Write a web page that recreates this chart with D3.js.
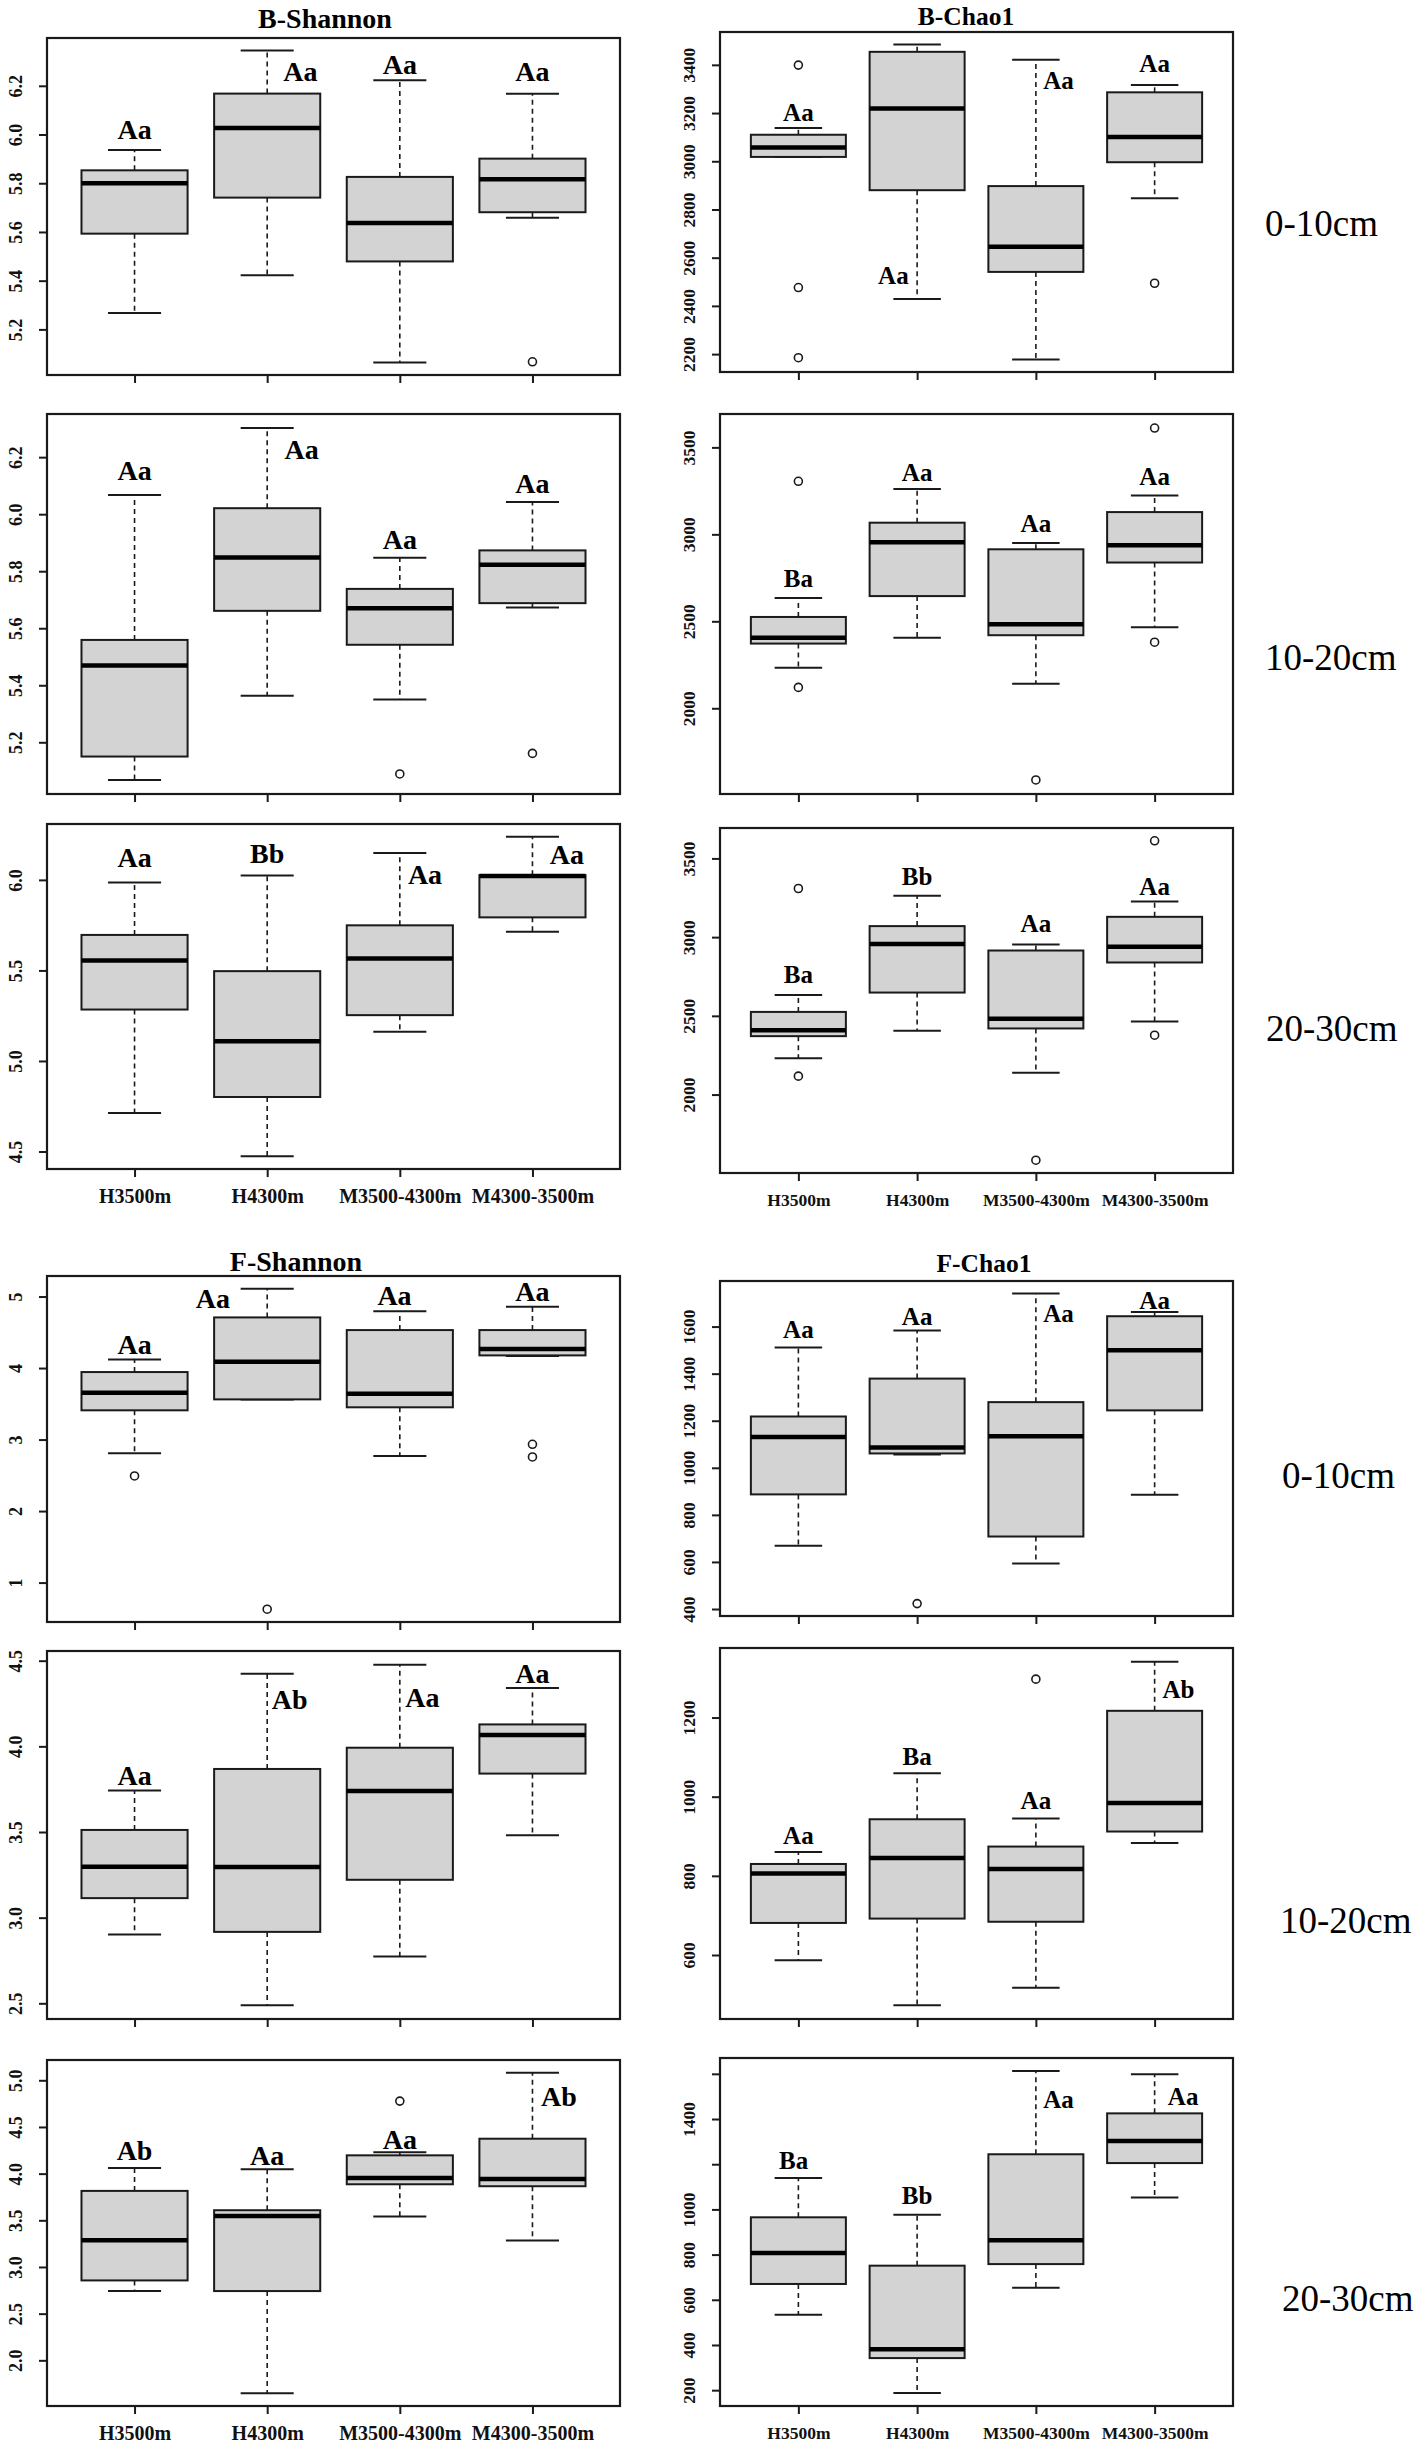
<!DOCTYPE html>
<meta charset="utf-8">
<script src="https://d3js.org/d3.v7.min.js"></script>
<style type="text/css">
	body { margin: 0; background: #fff; }
	text { font-family: "Liberation Serif", "Times New Roman", serif; }
</style>
<div id="fig"></div>

<script>
// groups on the x axis, same for every panel
const groups = ["H3500m", "H4300m", "M3500-4300m", "M4300-3500m"];

// each box: [lower whisker, Q1, median, Q3, upper whisker]
// ---- bacteria, Shannon
const bShannon_0_10 = [[5.267, 5.593, 5.800, 5.853, 5.936], [5.422, 5.741, 6.027, 6.168, 6.345], [5.064, 5.479, 5.637, 5.826, 6.223], [5.658, 5.681, 5.816, 5.901, 6.167]];
const bShannon_0_10_out = [[], [], [], [5.067]];
const bShannon_0_10_let = ["Aa", "Aa", "Aa", "Aa"];
const bShannon_0_10_letY = [6.018, 6.258, 6.288, 6.258];
const bShannon_0_10_letDx = [0, 0.25, 0, 0];

const bShannon_10_20 = [[5.068, 5.150, 5.469, 5.559, 6.067], [5.363, 5.661, 5.848, 6.021, 6.302], [5.350, 5.542, 5.670, 5.738, 5.847], [5.673, 5.688, 5.823, 5.873, 6.043]];
const bShannon_10_20_out = [[], [], [5.089], [5.161]];
const bShannon_10_20_let = ["Aa", "Aa", "Aa", "Aa"];
const bShannon_10_20_letY = [6.152, 6.226, 5.912, 6.105];
const bShannon_10_20_letDx = [0, 0.26, 0, 0];

const bShannon_20_30 = [[4.712, 5.284, 5.555, 5.696, 5.985], [4.474, 4.801, 5.109, 5.496, 6.024], [5.162, 5.253, 5.566, 5.749, 6.148], [5.714, 5.793, 6.022, 6.026, 6.238]];
const bShannon_20_30_out = [[], [], [], []];
const bShannon_20_30_let = ["Aa", "Bb", "Aa", "Aa"];
const bShannon_20_30_letY = [6.120, 6.146, 6.028, 6.138];
const bShannon_20_30_letDx = [0, 0, 0.19, 0.26];

// ---- bacteria, Chao1
const bChao1_0_10 = [[3018, 3018, 3057, 3110, 3138], [2429, 2880, 3219, 3454, 3484], [2178, 2541, 2645, 2897, 3421], [2847, 2996, 3101, 3286, 3316]];
const bChao1_0_10_out = [[3399, 2476, 2185], [], [], [2494]];
const bChao1_0_10_let = ["Aa", "Aa", "Aa", "Aa"];
const bChao1_0_10_letY = [3203, 2523, 3334, 3403];
const bChao1_0_10_letDx = [0, -0.2, 0.19, 0];

const bChao1_10_20 = [[2233, 2372, 2406, 2525, 2634], [2406, 2645, 2954, 3067, 3261], [2141, 2420, 2483, 2914, 2950], [2466, 2838, 2937, 3128, 3223]];
const bChao1_10_20_out = [[3305, 2120], [], [1588], [3611, 2380]];
const bChao1_10_20_let = ["Ba", "Aa", "Aa", "Aa"];
const bChao1_10_20_letY = [2746, 3357, 3061, 3332];
const bChao1_10_20_letDx = [0, 0, 0, 0];

const bChao1_20_30 = [[2231, 2371, 2409, 2525, 2633], [2405, 2648, 2956, 3070, 3263], [2138, 2420, 2481, 2915, 2953], [2464, 2839, 2939, 3129, 3227]];
const bChao1_20_30_out = [[3309, 2117], [], [1583], [3612, 2377]];
const bChao1_20_30_let = ["Ba", "Bb", "Aa", "Aa"];
const bChao1_20_30_letY = [2763, 3383, 3083, 3320];
const bChao1_20_30_letDx = [0, 0, 0, 0];

// ---- fungi, Shannon
const fShannon_0_10 = [[2.808, 3.409, 3.655, 3.944, 4.121], [3.560, 3.562, 4.088, 4.708, 5.108], [2.771, 3.451, 3.641, 4.531, 4.796], [4.170, 4.177, 4.265, 4.531, 4.857]];
const fShannon_0_10_out = [[2.491], [0.628], [], [2.934, 2.757]];
const fShannon_0_10_let = ["Aa", "Aa", "Aa", "Aa"];
const fShannon_0_10_letY = [4.321, 4.973, 5.010, 5.066];
const fShannon_0_10_letDx = [0, -0.41, -0.04, 0];

const fShannon_10_20 = [[2.901, 3.114, 3.297, 3.512, 3.742], [2.488, 2.917, 3.295, 3.868, 4.424], [2.773, 3.221, 3.740, 3.992, 4.477], [3.481, 3.841, 4.066, 4.128, 4.341]];
const fShannon_10_20_out = [[], [], [], []];
const fShannon_10_20_let = ["Aa", "Ab", "Aa", "Aa"];
const fShannon_10_20_letY = [3.831, 4.273, 4.283, 4.422];
const fShannon_10_20_letDx = [0, 0.17, 0.17, 0];

const fShannon_20_30 = [[2.742, 2.856, 3.287, 3.815, 4.061], [1.648, 2.742, 3.547, 3.608, 4.046], [3.540, 3.886, 3.954, 4.196, 4.228], [3.284, 3.865, 3.943, 4.374, 5.080]];
const fShannon_20_30_out = [[], [], [4.777], []];
const fShannon_20_30_let = ["Ab", "Aa", "Aa", "Ab"];
const fShannon_20_30_letY = [4.249, 4.196, 4.367, 4.827];
const fShannon_20_30_letDx = [0, 0, 0, 0.2];

// ---- fungi, Chao1
const fChao1_0_10 = [[669, 887, 1131, 1218, 1511], [1056, 1061, 1086, 1379, 1583], [593, 708, 1134, 1279, 1741], [885, 1244, 1500, 1644, 1662]];
const fChao1_0_10_out = [[], [423], [], []];
const fChao1_0_10_let = ["Aa", "Aa", "Aa", "Aa"];
const fChao1_0_10_letY = [1586, 1641, 1656, 1711];
const fChao1_0_10_letDx = [0, 0, 0.19, 0];

const fChao1_10_20 = [[587, 681, 806, 830, 860], [473, 692, 845, 943, 1059], [517, 684, 817, 874, 945], [883, 912, 984, 1217, 1341]];
const fChao1_10_20_out = [[], [], [1297], []];
const fChao1_10_20_let = ["Aa", "Ba", "Aa", "Ab"];
const fChao1_10_20_letY = [902, 1101, 990, 1271];
const fChao1_10_20_letDx = [0, 0, 0, 0.2];

const fChao1_20_30 = [[534, 670, 807, 965, 1139], [187, 342, 381, 751, 976], [653, 758, 864, 1244, 1613], [1053, 1205, 1303, 1425, 1598]];
const fChao1_20_30_out = [[], [], [], []];
const fChao1_20_30_let = ["Ba", "Bb", "Aa", "Aa"];
const fChao1_20_30_letY = [1214, 1059, 1485, 1500];
const fChao1_20_30_letDx = [-0.04, 0, 0.19, 0.24];

// y tick values per panel (and the ones that carry a label)
const tShannonB1 = [5.2, 5.4, 5.6, 5.8, 6.0, 6.2];
const tShannonB3 = [4.5, 5.0, 5.5, 6.0];
const tChaoB1 = [2200, 2400, 2600, 2800, 3000, 3200, 3400];
const tChaoB2 = [2000, 2500, 3000, 3500];
const tShannonF1 = [1, 2, 3, 4, 5];
const tShannonF2 = [2.5, 3.0, 3.5, 4.0, 4.5];
const tShannonF3 = [2.0, 2.5, 3.0, 3.5, 4.0, 4.5, 5.0];
const tChaoF1 = [400, 600, 800, 1000, 1200, 1400, 1600];
const tChaoF2 = [600, 800, 1000, 1200];
const tChaoF3 = [200, 400, 600, 800, 1000, 1200, 1400, 1600];
const tChaoF3shown = [200, 400, 600, 800, 1000, 1400];

const depths = ["0-10cm", "10-20cm", "20-30cm", "0-10cm", "10-20cm", "20-30cm"];

// ---- layout (page pixels)
const W = 1417, H = 2445;
const colX = [[47, 620], [720, 1233]];
const rowY = [
	[[38, 375], [32, 372]],
	[[414, 794], [414, 794]],
	[[824, 1169], [828, 1173]],
	[[1276, 1622], [1281, 1616]],
	[[1651, 2019], [1648, 2019]],
	[[2060, 2406], [2058, 2406]]
];
// the right hand column was pasted in a bit smaller
const colFont = [
	{letter: 28, xlab: 20, ytick: 18, title: 28},
	{letter: 25, xlab: 17.5, ytick: 17.5, title: 25.5}
];
const depthPos = [[1265, 223], [1265, 657], [1266, 1028], [1282, 1475], [1280, 1920], [1282, 2298]];
const titles = [
	{text: "B-Shannon", x: 325, y: 18, col: 0},
	{text: "B-Chao1", x: 966, y: 16, col: 1},
	{text: "F-Shannon", x: 296, y: 1261, col: 0},
	{text: "F-Chao1", x: 984, y: 1263, col: 1}
];

const f1 = d3.format(".1f");
const f0 = d3.format("d");

const panels = [
	{row: 0, col: 0, stats: bShannon_0_10, out: bShannon_0_10_out, let: bShannon_0_10_let, letY: bShannon_0_10_letY, letDx: bShannon_0_10_letDx, ticks: tShannonB1, fmt: f1},
	{row: 0, col: 1, stats: bChao1_0_10, out: bChao1_0_10_out, let: bChao1_0_10_let, letY: bChao1_0_10_letY, letDx: bChao1_0_10_letDx, ticks: tChaoB1, fmt: f0},
	{row: 1, col: 0, stats: bShannon_10_20, out: bShannon_10_20_out, let: bShannon_10_20_let, letY: bShannon_10_20_letY, letDx: bShannon_10_20_letDx, ticks: tShannonB1, fmt: f1},
	{row: 1, col: 1, stats: bChao1_10_20, out: bChao1_10_20_out, let: bChao1_10_20_let, letY: bChao1_10_20_letY, letDx: bChao1_10_20_letDx, ticks: tChaoB2, fmt: f0},
	{row: 2, col: 0, stats: bShannon_20_30, out: bShannon_20_30_out, let: bShannon_20_30_let, letY: bShannon_20_30_letY, letDx: bShannon_20_30_letDx, ticks: tShannonB3, fmt: f1, xlab: true},
	{row: 2, col: 1, stats: bChao1_20_30, out: bChao1_20_30_out, let: bChao1_20_30_let, letY: bChao1_20_30_letY, letDx: bChao1_20_30_letDx, ticks: tChaoB2, fmt: f0, xlab: true},
	{row: 3, col: 0, stats: fShannon_0_10, out: fShannon_0_10_out, let: fShannon_0_10_let, letY: fShannon_0_10_letY, letDx: fShannon_0_10_letDx, ticks: tShannonF1, fmt: f0},
	{row: 3, col: 1, stats: fChao1_0_10, out: fChao1_0_10_out, let: fChao1_0_10_let, letY: fChao1_0_10_letY, letDx: fChao1_0_10_letDx, ticks: tChaoF1, fmt: f0},
	{row: 4, col: 0, stats: fShannon_10_20, out: fShannon_10_20_out, let: fShannon_10_20_let, letY: fShannon_10_20_letY, letDx: fShannon_10_20_letDx, ticks: tShannonF2, fmt: f1},
	{row: 4, col: 1, stats: fChao1_10_20, out: fChao1_10_20_out, let: fChao1_10_20_let, letY: fChao1_10_20_letY, letDx: fChao1_10_20_letDx, ticks: tChaoF2, fmt: f0},
	{row: 5, col: 0, stats: fShannon_20_30, out: fShannon_20_30_out, let: fShannon_20_30_let, letY: fShannon_20_30_letY, letDx: fShannon_20_30_letDx, ticks: tShannonF3, fmt: f1, xlab: true},
	{row: 5, col: 1, stats: fChao1_20_30, out: fChao1_20_30_out, let: fChao1_20_30_let, letY: fChao1_20_30_letY, letDx: fChao1_20_30_letDx, ticks: tChaoF3, shown: tChaoF3shown, fmt: f0, xlab: true}
];

const ink = "#1a1a1a";

var svg = d3.select("#fig")
	.append("svg")
	.attr("width", W)
	.attr("height", H)
	.style("display", "block");

svg.append("rect").attr("width", W).attr("height", H).attr("fill", "#fff");

function draw_panel(p) {
	const [x0, x1] = colX[p.col];
	const [y0, y1] = rowY[p.row][p.col];
	const fs = colFont[p.col];

	// R style limits: 4% padding around the data range
	const all = p.stats.flat().concat(p.out.flat());
	const ext = d3.extent(all);
	const pad = (ext[1] - ext[0]) * 0.04;

	const x = d3.scaleLinear().domain([0.34, 4.66]).range([x0, x1]);
	const y = d3.scaleLinear().domain([ext[0] - pad, ext[1] + pad]).range([y1, y0]);

	const g = svg.append("g");

	const box = g.selectAll("g.box")
		.data(p.stats)
		.enter().append("g")
		.attr("class", "box");

	// whiskers (dashed)
	box.append("line")
		.attr("x1", (d, i) => x(i + 1)).attr("x2", (d, i) => x(i + 1))
		.attr("y1", d => y(d[3])).attr("y2", d => y(d[4]))
		.attr("stroke", ink).attr("stroke-width", 1.6).attr("stroke-dasharray", "5,4");
	box.append("line")
		.attr("x1", (d, i) => x(i + 1)).attr("x2", (d, i) => x(i + 1))
		.attr("y1", d => y(d[1])).attr("y2", d => y(d[0]))
		.attr("stroke", ink).attr("stroke-width", 1.6).attr("stroke-dasharray", "5,4");

	// staples
	[0, 4].forEach(function(k) {
		box.append("line")
			.attr("x1", (d, i) => x(i + 0.8)).attr("x2", (d, i) => x(i + 1.2))
			.attr("y1", d => y(d[k])).attr("y2", d => y(d[k]))
			.attr("stroke", ink).attr("stroke-width", 2);
	});

	box.append("rect")
		.attr("x", (d, i) => x(i + 0.6))
		.attr("width", x(1.4) - x(0.6))
		.attr("y", d => y(d[3]))
		.attr("height", d => y(d[1]) - y(d[3]))
		.attr("fill", "#d3d3d3")
		.attr("stroke", ink)
		.attr("stroke-width", 2);

	// median
	box.append("line")
		.attr("x1", (d, i) => x(i + 0.6)).attr("x2", (d, i) => x(i + 1.4))
		.attr("y1", d => y(d[2])).attr("y2", d => y(d[2]))
		.attr("stroke", "#000").attr("stroke-width", 4.5);

	// outliers
	p.out.forEach(function(vals, i) {
		g.selectAll(null)
			.data(vals)
			.enter().append("circle")
			.attr("cx", x(i + 1))
			.attr("cy", d => y(d))
			.attr("r", 4)
			.attr("fill", "none")
			.attr("stroke", ink)
			.attr("stroke-width", 1.6);
	});

	// letters
	g.selectAll("text.letter")
		.data(p.let)
		.enter().append("text")
		.attr("class", "letter")
		.attr("x", (d, i) => x(i + 1 + p.letDx[i]))
		.attr("y", (d, i) => y(p.letY[i]))
		.attr("dy", "0.33em")
		.attr("text-anchor", "middle")
		.attr("font-size", fs.letter)
		.attr("font-weight", "bold")
		.attr("fill", "#000")
		.text(d => d);

	// frame
	g.append("rect")
		.attr("x", x0).attr("y", y0)
		.attr("width", x1 - x0).attr("height", y1 - y0)
		.attr("fill", "none")
		.attr("stroke", ink)
		.attr("stroke-width", 2.2);

	// y axis, labels parallel to the axis
	const shown = p.shown || p.ticks;
	const ya = g.append("g")
		.attr("transform", `translate(${x0},0)`)
		.call(d3.axisLeft(y).tickValues(p.ticks).tickSize(8)
			.tickFormat(v => shown.indexOf(v) >= 0 ? p.fmt(v) : ""));
	ya.select(".domain").remove();
	ya.selectAll("line").attr("stroke", ink).attr("stroke-width", 2);
	ya.selectAll("text")
		.attr("x", null)
		.attr("dy", "0.35em")
		.attr("transform", "translate(-31,0) rotate(-90)")
		.attr("text-anchor", "middle")
		.attr("font-size", fs.ytick)
		.attr("font-weight", "bold")
		.attr("fill", "#111");

	// x axis
	const xa = g.append("g")
		.attr("transform", `translate(0,${y1})`)
		.call(d3.axisBottom(x).tickValues([1, 2, 3, 4]).tickSize(8)
			.tickFormat(v => p.xlab ? groups[v - 1] : ""));
	xa.select(".domain").remove();
	xa.selectAll("line").attr("stroke", ink).attr("stroke-width", 2);
	xa.selectAll("text")
		.attr("y", 27)
		.attr("dy", "0.35em")
		.attr("font-size", fs.xlab)
		.attr("font-weight", "bold")
		.attr("fill", "#111");
}

panels.forEach(draw_panel);

// panel titles
svg.selectAll("text.title")
	.data(titles)
	.enter().append("text")
	.attr("class", "title")
	.attr("x", d => d.x)
	.attr("y", d => d.y)
	.attr("dy", "0.35em")
	.attr("text-anchor", "middle")
	.attr("font-size", d => colFont[d.col].title)
	.attr("font-weight", "bold")
	.text(d => d.text);

// soil depth labels on the right
svg.selectAll("text.depth")
	.data(depths)
	.enter().append("text")
	.attr("class", "depth")
	.attr("x", (d, i) => depthPos[i][0])
	.attr("y", (d, i) => depthPos[i][1])
	.attr("dy", "0.35em")
	.attr("font-size", 37)
	.text(d => d);
</script>
